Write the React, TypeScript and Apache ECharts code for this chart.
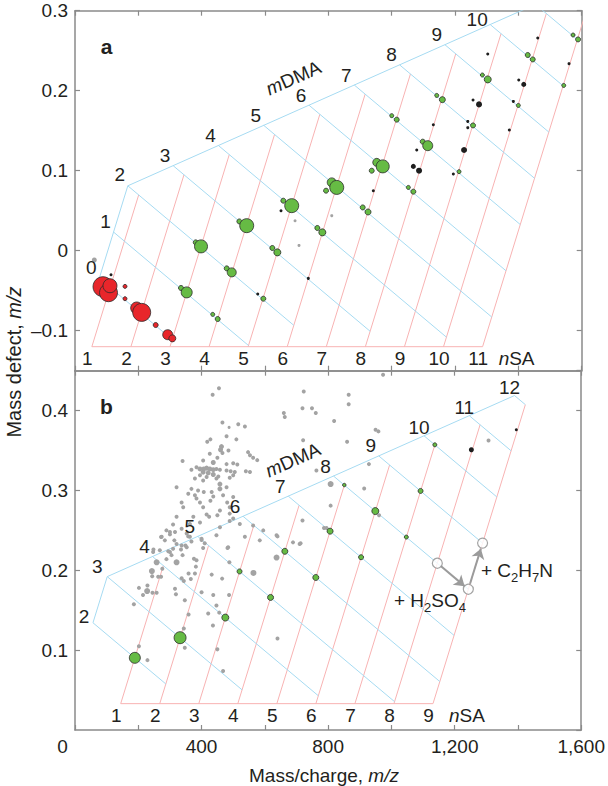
import React, { useEffect, useRef } from 'react';
import * as echarts from 'echarts';

const FONT = '"Liberation Sans", Arial, Helvetica, sans-serif';
const TXT = '#231f20';
const AXIS = '#8a8a8a';
const BLUE = '#a6dbf2';
const PINK = '#f8b3b3';
const RED = '#e8262b';
const GREEN = '#66bb44';
const BLACK = '#1e1e1e';
const GRAY = '#a3a3a3';
const OUTLINE = '#2b2b2b';
const FS = 19;

// building blocks: [mass, mass defect]
const SA = [97.967, -0.0326]; // H2SO4
const DMA = [45.058, 0.0578]; // C2H7N (dimethylamine)

// ---------- panel a (negative ions) ----------
const aOrigin = [13.0, -0.0133];
const aSA = [1, 2, 3, 4, 5, 6, 7, 8, 9, 10, 11];
const aBase = -0.12;
const aEdgeN = 0.65;
const aEdgeM = [0, 2];
const aTopM = 12;
const aRedTop = 1;
const aDMA = [0, 1, 2, 3, 4, 5, 6, 7, 8, 9, 10, 11, 12];
const aDMAEnd = [3, 5, 6, 8, 10, 11, 11, 11, 11, 11, 11, 11, 11];
const aDMALabels = [0, 1, 2, 3, 4, 5, 6, 7, 8, 9, 10];

const aRed = [
  [88.4, -0.045, 20], [105.8, -0.0525, 18], [110.5, -0.0438, 14],
  [157.9, -0.0446, 4], [157.9, -0.06, 4], [194.8, -0.0716, 12], [210.6, -0.0771, 18],
  [254.8, -0.0929, 5], [292.7, -0.105, 10], [307.3, -0.1096, 7],
];
const aGreen = [
  [381.2, 0.0104, 5], [397.9, 0.0054, 13], [479.1, -0.0221, 5], [494.9, -0.0271, 9],
  [334.7, -0.0466, 5], [352.7, -0.0521, 11], [434.9, -0.0796, 4], [450.6, -0.0854, 5],
  [518.9, 0.0366, 5], [542.2, 0.0313, 14], [623.1, 0.0034, 5], [638.9, -0.0021, 7],
  [594.7, -0.06, 5], [657.8, 0.0625, 5], [684.3, 0.0563, 14], [765.2, 0.0284, 5],
  [781, 0.0229, 7], [792.7, 0.075, 5], [810.7, 0.0854, 9], [826.5, 0.0791, 14],
  [908.5, 0.0541, 5], [925.3, 0.0484, 6], [1052.6, 0.0791, 4], [1068.4, 0.0738, 5],
  [937, 0.1, 5], [952.8, 0.1104, 8], [971.7, 0.1054, 13], [1098, 0.1363, 5],
  [1113.8, 0.1313, 10], [1000.1, 0.1688, 4], [1015.9, 0.1638, 5], [1142.2, 0.1941, 4],
  [1160, 0.1888, 6], [1212.7, 0.0988, 4], [1256.9, 0.1566, 5], [1286.3, 0.2196, 4],
  [1303.3, 0.2141, 7], [1399.9, 0.1816, 4], [1429.6, 0.2446, 5], [1445.4, 0.2391, 5],
  [1543.3, 0.2066, 4], [1572.7, 0.2696, 4], [1588.5, 0.2641, 5],
];
const aBlack = [
  [113.7, -0.03, 3], [650.5, 0.05, 3], [736.8, -0.0346, 3], [577, -0.0541, 3], [942, 0.075, 3],
  [1068.4, 0.1054, 5], [1086.4, 0.1, 6], [1079.1, 0.1259, 3], [1131.5, 0.1575, 3],
  [1194.7, 0.0959, 3], [1228.5, 0.1259, 6], [1240.2, 0.1616, 3], [1240.2, 0.1538, 3],
  [1256.9, 0.1884, 3], [1275.8, 0.1829, 6], [1303.3, 0.2459, 3], [1371.5, 0.1509, 3],
  [1384.2, 0.1866, 3], [1401.2, 0.2134, 3], [1417, 0.2079, 5], [1461.2, 0.2659, 3],
  [1560, 0.2338, 3],
];
const aGray = [[61, -0.0116, 5], [694.8, 0.0375, 3], [707.4, 0.0066, 3], [810.7, 0.0438, 3]];

// ---------- panel b (positive ions) ----------
const bOrigin = [1.007, 0.00728];
const bSA = [1, 2, 3, 4, 5, 6, 7, 8, 9];
const bBase = 0.033;
const bEdgeN = -0.35;
const bEdgeM = [2, 3];
const bTopM = 12;
const bRedTop = 3;
const bDMA = [2, 3, 4, 5, 6, 7, 8, 9, 10, 11, 12];
const bDMAEnd = [2, 4, 6, 8, 9, 9, 9, 9, 9, 9, 9];
const bDMALabels = [2, 3, 4, 5, 6, 7, 8, 9, 10, 11, 12];
// reaction arrows: cluster (nSA, mDMA)
const arrowSA = [8, 9, 9];
const arrowDMA = [8, 8, 9];

const bGreen = [
  [189.1, 0.0904, 11], [332.1, 0.1156, 12], [475.1, 0.1408, 7], [618.1, 0.166, 6],
  [761.1, 0.191, 6], [520.1, 0.1986, 5], [663.2, 0.2238, 6], [806.2, 0.249, 6],
  [904.2, 0.2164, 5], [949.2, 0.2742, 7], [851.2, 0.3068, 3.5], [1047.2, 0.2416, 4],
  [1092.2, 0.2994, 5], [1137.3, 0.3572, 4],
];
const bBlack = [[1252.8, 0.351, 5], [1394.9, 0.376, 3]];
const bGray = [
  [455, 0.428, 4], [435, 0.42, 4], [660, 0.397, 4], [663, 0.392, 4], [466, 0.385, 4], [516, 0.383, 4],
  [537, 0.38, 4], [487, 0.379, 3], [479, 0.368, 4], [510, 0.364, 4], [428, 0.364, 4], [418, 0.361, 4],
  [463, 0.355, 5], [460, 0.351, 5], [466, 0.347, 4], [485, 0.35, 4], [547, 0.348, 4], [553, 0.344, 4],
  [576, 0.338, 4], [563, 0.341, 4], [340, 0.337, 4], [426, 0.346, 4], [450, 0.341, 4], [437, 0.335, 5],
  [405, 0.3375, 4], [479, 0.333, 4], [500, 0.334, 4], [513, 0.3325, 4], [395, 0.327, 5], [407, 0.327, 5],
  [416, 0.328, 5], [426, 0.327, 5], [437, 0.326, 5], [447, 0.327, 4], [458, 0.326, 4], [368, 0.326, 4],
  [384, 0.329, 4], [405, 0.323, 5], [421, 0.322, 5], [437, 0.32, 5], [453, 0.3175, 4], [395, 0.319, 4],
  [416, 0.317, 4], [479, 0.325, 4], [492, 0.324, 4], [505, 0.323, 4], [540, 0.324, 4], [553, 0.323, 4],
  [379, 0.315, 4], [405, 0.3125, 4], [447, 0.315, 4], [458, 0.308, 5], [489, 0.316, 4], [500, 0.319, 4],
  [321, 0.304, 4], [368, 0.302, 4], [389, 0.3, 4], [407, 0.298, 4], [432, 0.298, 4], [458, 0.302, 5],
  [479, 0.304, 4], [358, 0.296, 4], [379, 0.294, 4], [437, 0.2925, 4], [468, 0.294, 4], [500, 0.2917, 4],
  [337, 0.285, 4], [384, 0.29, 4], [395, 0.285, 4], [428, 0.287, 4], [481, 0.285, 4], [342, 0.279, 4],
  [405, 0.279, 4], [458, 0.275, 4], [489, 0.279, 4], [416, 0.27, 4], [450, 0.269, 4], [489, 0.271, 4],
  [321, 0.267, 4], [374, 0.267, 4], [424, 0.267, 4], [500, 0.265, 4], [310, 0.2575, 4], [363, 0.258, 4],
  [395, 0.26, 4], [458, 0.254, 4], [489, 0.2617, 4], [337, 0.252, 4], [521, 0.258, 4], [289, 0.25, 4],
  [300, 0.245, 4], [353, 0.246, 4], [274, 0.242, 4], [363, 0.242, 4], [284, 0.2375, 4], [321, 0.233, 4],
  [337, 0.231, 4], [400, 0.2396, 4], [353, 0.229, 4], [310, 0.227, 4], [268, 0.225, 4], [300, 0.223, 4],
  [447, 0.244, 4], [410, 0.234, 4], [563, 0.256, 4], [484, 0.229, 4], [537, 0.242, 4], [584, 0.2375, 4],
  [595, 0.25, 4], [637, 0.244, 4], [637, 0.216, 6], [689, 0.235, 4], [247, 0.223, 4], [258, 0.21, 6],
  [321, 0.21, 6], [384, 0.2125, 4],
  [272, 0.2417, 4], [300, 0.248, 4], [316, 0.248, 4], [358, 0.2425, 4], [368, 0.236, 4], [314, 0.2375, 4],
  [335, 0.226, 4], [349, 0.231, 4], [400, 0.238, 4], [405, 0.228, 4], [248, 0.226, 4], [295, 0.224, 4],
  [305, 0.219, 4], [289, 0.214, 4], [340, 0.219, 4], [376, 0.2146, 4], [382, 0.2046, 4], [243, 0.199, 6],
  [244, 0.1925, 4], [263, 0.192, 4], [272, 0.192, 4], [276, 0.202, 4], [337, 0.19, 4], [344, 0.1867, 4],
  [359, 0.196, 4], [366, 0.189, 4], [379, 0.196, 4], [432, 0.1946, 4], [465, 0.1896, 4], [482, 0.228, 4],
  [488, 0.21, 4], [564, 0.1967, 6], [640, 0.2425, 4], [710, 0.233, 4], [202, 0.178, 4], [229, 0.181, 4],
  [228, 0.174, 6], [215, 0.169, 4], [245, 0.172, 4], [258, 0.172, 4], [316, 0.177, 4], [319, 0.17, 4],
  [400, 0.1725, 4], [437, 0.169, 4], [487, 0.169, 4], [347, 0.1625, 4], [186, 0.1575, 4], [359, 0.1446, 4],
  [421, 0.146, 4], [447, 0.156, 4], [456, 0.147, 4], [436, 0.131, 4], [344, 0.127, 4], [202, 0.105, 4],
  [229, 0.0875, 4], [347, 0.103, 4], [450, 0.101, 4], [468, 0.074, 4], [640, 0.1146, 4],
  [723, 0.424, 4], [865, 0.42, 4], [865, 0.408, 4], [719, 0.403, 4], [749, 0.403, 4], [761, 0.397, 4],
  [819, 0.387, 4], [950, 0.376, 4], [959, 0.374, 4], [860, 0.361, 4], [721, 0.363, 4], [929, 0.333, 4],
  [914, 0.3025, 4], [808, 0.281, 4], [719, 0.2625, 4], [808, 0.308, 6], [763, 0.325, 4], [795, 0.253, 4],
  [713, 0.234, 4], [961, 0.269, 4], [787, 0.253, 4], [973.6, 0.445, 4], [1307, 0.3625, 4],
];

// ---------- helpers ----------
const node = (o: number[], n: number, m: number) => [o[0] + SA[0] * n + DMA[0] * m, o[1] + SA[1] * n + DMA[1] * m];
const baseT = (o: number[], n: number, yb: number) => (yb - o[1] - SA[1] * n) / DMA[1];

interface Panel {
  o: number[]; sa: number[]; base: number; edgeN: number; edgeM: number[]; topM: number; redTop: number;
  dma: number[]; dmaEnd: number[]; labels: number[];
}
const panelA: Panel = { o: aOrigin, sa: aSA, base: aBase, edgeN: aEdgeN, edgeM: aEdgeM, topM: aTopM, redTop: aRedTop, dma: aDMA, dmaEnd: aDMAEnd, labels: aDMALabels };
const panelB: Panel = { o: bOrigin, sa: bSA, base: bBase, edgeN: bEdgeN, edgeM: bEdgeM, topM: bTopM, redTop: bRedTop, dma: bDMA, dmaEnd: bDMAEnd, labels: bDMALabels };

const vertexN = (p: Panel, m: number) => p.edgeN + Math.max(0, m - p.edgeM[1]);
const redBottom = (p: Panel, n: number) => node(p.o, n, baseT(p.o, n, p.base));

function meshSeries(p: Panel, xi: number, yi: number) {
  const out: any[] = [];
  const line = (pts: number[][], color: string) =>
    out.push({ type: 'line', xAxisIndex: xi, yAxisIndex: yi, data: pts, symbol: 'none', silent: true, clip: true, z: 1, lineStyle: { color, width: 1 } });
  p.sa.forEach((n) => line([redBottom(p, n), node(p.o, n, n + p.redTop)], PINK));
  line([redBottom(p, p.sa[0]), redBottom(p, p.sa[p.sa.length - 1])], PINK);
  p.dma.forEach((m, i) => line([node(p.o, vertexN(p, m), m), node(p.o, p.dmaEnd[i], m)], BLUE));
  line([
    node(p.o, p.edgeN, p.edgeM[0]),
    node(p.o, p.edgeN, p.edgeM[1]),
    node(p.o, p.edgeN + p.topM - p.edgeM[1], p.topM),
  ], BLUE);
  return out;
}

const richLabel = {
  i: { fontStyle: 'italic', fontSize: FS, fontFamily: FONT, color: TXT, opacity: 1 },
  n: { fontSize: FS, fontFamily: FONT, color: TXT, opacity: 1 },
};

function labelSeries(items: { pos: number[]; text: string; offset: number[] }[], xi: number, yi: number) {
  return {
    type: 'scatter', xAxisIndex: xi, yAxisIndex: yi, symbolSize: 0.01, silent: true, z: 10, clip: false,
    itemStyle: { color: TXT, opacity: 1 },
    label: {
      show: true, position: 'inside', fontSize: FS, fontFamily: FONT, color: TXT, opacity: 1,
      textBorderWidth: 0, textShadowBlur: 0, rich: richLabel,
    },
    data: items.map((it) => ({ value: it.pos, label: { offset: it.offset, formatter: it.text } })),
  };
}

function meshLabels(p: Panel, xi: number, yi: number, offsetFor: (m: number) => number[], saLast: string) {
  const items: { pos: number[]; text: string; offset: number[] }[] = [];
  p.sa.forEach((n) => items.push({ pos: redBottom(p, n), text: String(n), offset: [-4.5, 12] }));
  items.push({ pos: redBottom(p, p.sa[p.sa.length - 1]), text: saLast, offset: [34, 12] });
  p.labels.forEach((m) => items.push({ pos: node(p.o, vertexN(p, m), m), text: String(m), offset: offsetFor(m) }));
  return labelSeries(items, xi, yi);
}

function dots(data: number[][], color: string, border: string | null, xi: number, yi: number, z: number) {
  return {
    type: 'scatter', xAxisIndex: xi, yAxisIndex: yi, data, silent: true, z,
    symbolSize: (v: number[]) => v[2],
    itemStyle: { color, borderColor: border || color, borderWidth: border ? 0.8 : 0, opacity: 1 },
  };
}

const fmtX = (v: number) => {
  if (v % 400 !== 0) return '';
  if (v === 0) return '{z|0}';
  if (v >= 1000) return `${Math.floor(v / 1000)},${String(v % 1000).padStart(3, '0')}`;
  return String(v);
};
const fmtY = (v: number) => {
  const r = Math.round(v * 10) / 10;
  if (Math.abs(v - r) > 1e-6) return '';
  if (r === 0) return '0';
  return r < 0 ? '\u2013' + (-r).toFixed(1) : r.toFixed(1);
};

function buildOption() {
  const axisLine = { show: true, onZero: false, lineStyle: { color: AXIS, width: 1.5 } };
  const axisTick = { show: true, inside: true, length: 5, lineStyle: { color: AXIS, width: 1.2 } };
  const xCommon = { type: 'value', min: 0, max: 1600, interval: 200, splitLine: { show: false }, axisLine, axisTick };
  const yLabel = { show: true, margin: 7, fontSize: FS, fontFamily: FONT, color: TXT, formatter: fmtY };
  const yA = { type: 'value', min: -0.15, max: 0.3, splitNumber: 5, splitLine: { show: false }, axisLine, axisTick };
  const yB = { type: 'value', min: 0, max: 0.45, interval: 0.1, splitLine: { show: false }, axisLine, axisTick };

  const arrowPts = arrowSA.map((n, i) => node(bOrigin, n, arrowDMA[i]));
  const shorten = (a: number[], b: number[], s: number, e: number) => [
    [a[0] + (b[0] - a[0]) * s, a[1] + (b[1] - a[1]) * s],
    [a[0] + (b[0] - a[0]) * e, a[1] + (b[1] - a[1]) * e],
  ];

  const aOffset = (m: number) => (m <= 2 ? [-8, -11] : m >= 10 ? [-13, -5] : [-8, -10]);
  const bOffset = (m: number) => (m === 2 ? [-9, -6] : m === 3 ? [-10, -10] : m >= 10 ? [-5, -8] : [-8, -10]);

  const gRich = (fs: number) => ({
    n: { fontSize: fs, fontFamily: FONT, fill: TXT, lineHeight: 28, verticalAlign: 'middle' },
    i: { fontSize: fs, fontFamily: FONT, fill: TXT, fontStyle: 'italic', lineHeight: 28, verticalAlign: 'middle' },
    s: { fontSize: 13, fontFamily: FONT, fill: TXT, lineHeight: 28, verticalAlign: 'bottom' },
  });
  const gText = (x: number, y: number, text: string, rotation = 0, fs = FS) => ({
    type: 'text', x, y, rotation, silent: true, z: 20,
    style: { text, rich: gRich(fs), align: 'center', verticalAlign: 'middle', fill: TXT, fontSize: fs, fontFamily: FONT },
  });

  return {
    animation: false,
    backgroundColor: '#ffffff',
    grid: [
      { left: 75, right: 26.3, top: 10.7, height: 360 },
      { left: 75, right: 26.3, top: 370.7, height: 359.3 },
    ],
    xAxis: [
      { ...xCommon, gridIndex: 0, position: 'bottom', axisLabel: { show: false } },
      { ...xCommon, gridIndex: 0, position: 'top', axisLabel: { show: false } },
      {
        ...xCommon, gridIndex: 1, position: 'bottom',
        axisLabel: {
          show: true, margin: 7, fontSize: FS, fontFamily: FONT, color: TXT, formatter: fmtX,
          rich: { z: { fontSize: FS, fontFamily: FONT, color: TXT, padding: [0, 25, 0, 0] } },
        },
      },
      { ...xCommon, gridIndex: 1, position: 'top', axisLabel: { show: false } },
    ],
    yAxis: [
      { ...yA, gridIndex: 0, position: 'left', axisLabel: { ...yLabel, showMinLabel: false } },
      { ...yA, gridIndex: 0, position: 'right', axisLabel: { show: false } },
      { ...yB, gridIndex: 1, position: 'left', axisLabel: { ...yLabel, showMinLabel: false, showMaxLabel: false } },
      { ...yB, gridIndex: 1, position: 'right', axisLabel: { show: false } },
    ],
    graphic: [
      gText(14, 362, '{n|Mass defect, }{i|m/z}', Math.PI / 2, 20),
      gText(324, 775, '{n|Mass/charge, }{i|m/z}'),
      { type: 'text', x: 106.5, y: 46, silent: true, style: { text: 'a', fill: TXT, font: `bold 21px ${FONT}`, align: 'center', verticalAlign: 'middle' } },
      { type: 'text', x: 106.5, y: 406, silent: true, style: { text: 'b', fill: TXT, font: `bold 21px ${FONT}`, align: 'center', verticalAlign: 'middle' } },
      gText(293.5, 78, '{i|m}{n|DMA}', (24 * Math.PI) / 180),
      gText(293, 460, '{i|m}{n|DMA}', (24 * Math.PI) / 180),
      gText(430, 600, '{n|+ H}{s|2}{n|SO}{s|4}'),
      gText(517, 570, '{n|+ C}{s|2}{n|H}{s|7}{n|N}'),
    ],
    series: [
      ...meshSeries(panelA, 0, 0),
      ...meshSeries(panelB, 2, 2),
      dots(aGray, GRAY, null, 0, 0, 3),
      dots(aBlack, BLACK, null, 0, 0, 4),
      dots(aGreen, GREEN, OUTLINE, 0, 0, 5),
      dots(aRed, RED, OUTLINE, 0, 0, 6),
      dots(bGray, GRAY, null, 2, 2, 3),
      dots(bBlack, BLACK, null, 2, 2, 4),
      dots(bGreen, GREEN, OUTLINE, 2, 2, 5),
      {
        type: 'lines', coordinateSystem: 'cartesian2d', xAxisIndex: 2, yAxisIndex: 2, silent: true, z: 6,
        symbol: ['none', 'arrow'], symbolSize: 10,
        lineStyle: { color: '#9b9b9b', width: 2, opacity: 1, curveness: 0 },
        data: [
          { coords: shorten(arrowPts[0], arrowPts[1], 0.12, 0.88) },
          { coords: shorten(arrowPts[1], arrowPts[2], 0.12, 0.88) },
        ],
      },
      {
        type: 'scatter', xAxisIndex: 2, yAxisIndex: 2, silent: true, z: 7, symbolSize: 10,
        itemStyle: { color: '#ffffff', borderColor: '#8c8c8c', borderWidth: 1.2 },
        data: arrowPts,
      },
      meshLabels(panelA, 0, 0, aOffset, '{i|n}{n|SA}'),
      meshLabels(panelB, 2, 2, bOffset, '{i|n}{n|SA}'),
    ],
  };
}

export default function App() {
  const ref = useRef<HTMLDivElement>(null);
  useEffect(() => {
    if (!ref.current) return;
    const chart = echarts.init(ref.current, undefined, { renderer: 'svg' });
    chart.setOption(buildOption() as any);
    return () => chart.dispose();
  }, []);
  return (
    <div
      ref={ref}
      style={{ position: 'fixed', left: 0, top: 0, width: 608, height: 786, background: '#ffffff' }}
    />
  );
}
